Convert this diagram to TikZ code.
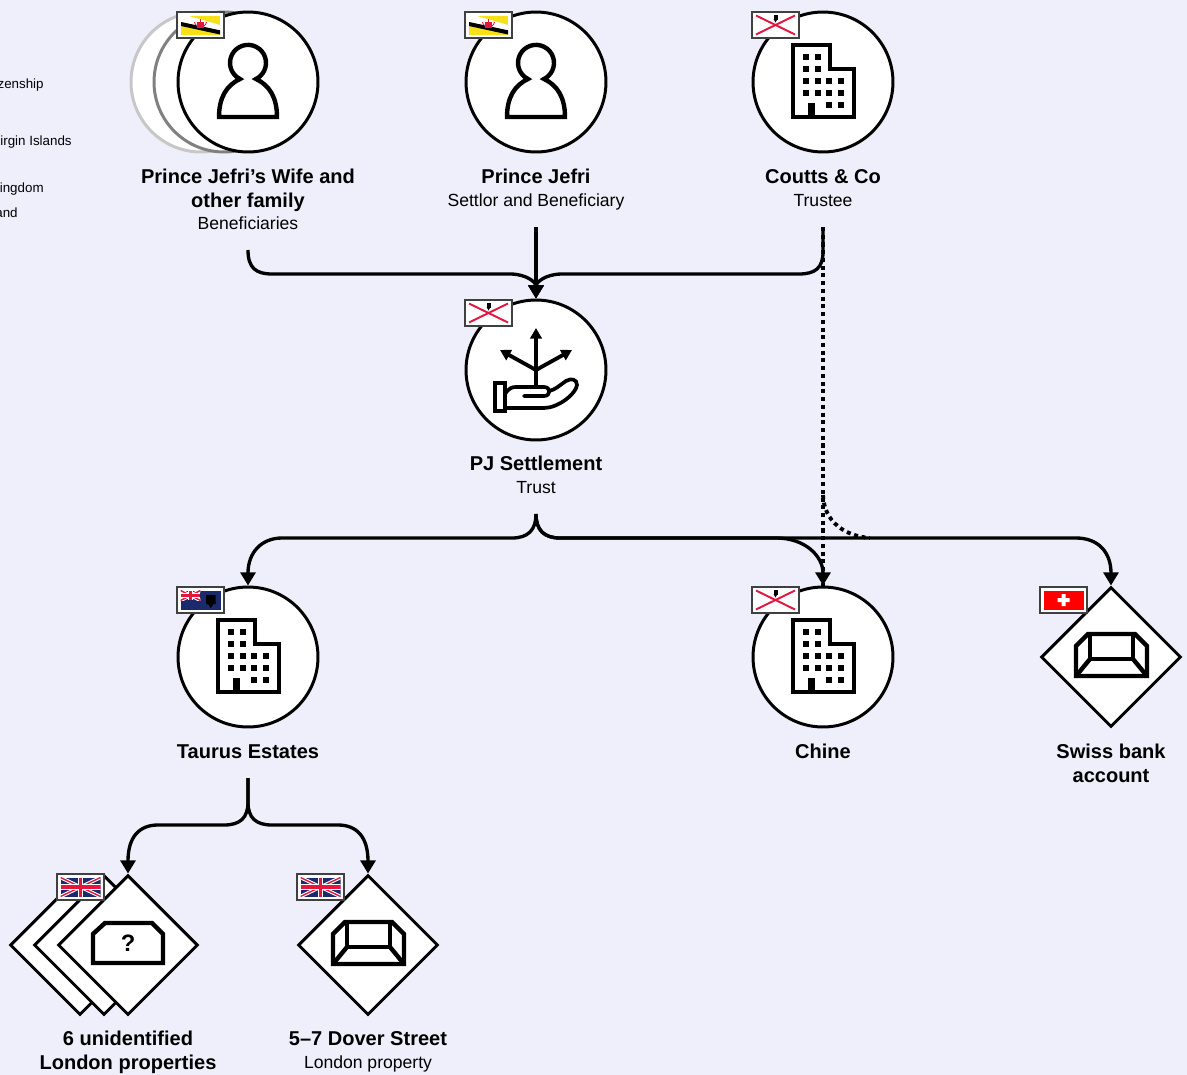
\documentclass[tikz,border=0pt]{standalone}
\usepackage{fontspec}
\setmainfont{Liberation Sans}
\usetikzlibrary{arrows.meta}
\usetikzlibrary{shapes.geometric}

\definecolor{pagebg}{HTML}{EFEFFC}
\definecolor{flagnavy}{HTML}{1A2A6C}
\definecolor{flagred}{HTML}{E3173E}
\definecolor{flagyellow}{HTML}{F7E017}

\tikzset{
  owner/.style={circle, draw=black, fill=white, line width=1.7pt, minimum size=2.80cm, inner sep=0pt},
  asset/.style={diamond, draw=black, fill=white, line width=1.7pt, minimum width=2.80cm, minimum height=2.80cm, aspect=1, inner sep=0pt},
  partylabel/.style={align=center, anchor=north, inner sep=0pt, font=\fontsize{11.4}{13.3}\selectfont\bfseries},
  legendtext/.style={anchor=east, inner sep=0pt, font=\fontsize{7.6}{9}\selectfont},
  link/.style={line width=1.9pt},
  linkarrow/.style={link, ->, >={Triangle[width=8.5pt,length=7.5pt]}},
  dotlink/.style={line width=2.2pt, dash pattern=on 2.3pt off 2.1pt},
  icon/.style={line width=2.5pt, line join=miter},
  flagedge/.style={draw=black!75, fill=white, line width=.9pt},
  pics/person/.style={code={
    \draw[icon] (-8,-3) arc[start angle=116.4, end angle=423.6, radius=18] .. controls (21,3) and (29,15) .. (29,35) -- (-29,35) .. controls (-29,15) and (-21,3) .. cycle;
  }},
  pics/building/.style={code={
    \draw[icon] (-30,-37) -- (7,-37) -- (7,-13) -- (31,-13) -- (31,35) -- (-30,35) -- cycle;
    \fill (-15,21) rectangle (-8,37);
    \foreach \wx in {-17,-5} \foreach \wy in {-25,-13}
      \fill (\wx-3.25,\wy-3.25) rectangle +(6.5,6.5);
    \foreach \wx in {-17,-5,6,18} \foreach \wy in {-1,11}
      \fill (\wx-3.25,\wy-3.25) rectangle +(6.5,6.5);
    \foreach \wx in {6,18}
      \fill (\wx-3.25,19.75) rectangle +(6.5,6.5);
  }},
  pics/vault/.style={code={
    \draw[icon] (-35,-11) -- (-23,-23) -- (24,-23) -- (36,-11) -- (36,19) -- (-35,19) -- cycle;
    \draw[icon] (-21,-23) rectangle (22,2);
    \draw[icon] (-21,2) -- (-35,19);
    \draw[icon] (22,2) -- (36,19);
  }},
  pics/unknown/.style={code={
    \draw[icon] (-35,-11) -- (-23,-22) -- (24,-22) -- (35,-11) -- (35,18) -- (-35,18) -- cycle;
    \node[inner sep=0pt, font=\fontsize{13.5}{15}\selectfont\bfseries] at (0,-2) {?};
  }},
  pics/gift/.style={code={
    \draw[line width=2.2pt, -{Triangle[width=6.5pt,length=6pt]}] (0,18) -- (0,-42);
    \draw[line width=2.2pt, -{Triangle[width=6.5pt,length=6pt]}] (0,0) -- (-36,-20);
    \draw[line width=2.2pt, -{Triangle[width=6.5pt,length=6pt]}] (0,0) -- (36,-20);
    \draw[icon, line width=2.1pt] (-41,13) rectangle (-31,41);
    \draw[icon, line width=2.1pt, line cap=round] (-31,24) .. controls (-27,18) and (-24,17) .. (-20,17) -- (8,17) .. controls (15,17) and (15,26) .. (8,26) -- (-12,26);
    \draw[icon, line width=2.1pt, line cap=round] (-31,38) -- (8,38) .. controls (22,38) and (40,24) .. (41,15) .. controls (41,9) and (35,8) .. (30,11) .. controls (24,15) and (19,20) .. (13,21);
  }},
  pics/bruneiflag/.style={code={
    \draw[flagedge] (0,0) rectangle (47,26);
    \fill[flagyellow] (4,4) rectangle (43,22.5);
    \fill[white] (4,4) -- (4,10) -- (43,18.3) -- (43,13) -- (12,4) -- cycle;
    \fill[black] (4,10) -- (4,14) -- (43,22.5) -- (43,18.3) -- cycle;
    \fill[flagred] (20,10) rectangle (27,16);
    \fill[flagred] (23,7) rectangle (24.4,11);
    \draw[flagred, line width=.5pt] (17.5,10) .. controls (19,17) and (28,17) .. (29.5,10);
  }},
  pics/jerseyflag/.style={code={
    \draw[flagedge] (0,0) rectangle (47,26);
    \draw[flagred, line width=1.1pt] (4,3.5) -- (43,22.5);
    \draw[flagred, line width=1.1pt] (43,3.5) -- (4,22.5);
    \fill[black] (21.5,3) rectangle (25.5,8);
    \fill[black] (23.5,10.5) -- (21.5,7) -- (25.5,7) -- cycle;
  }},
  pics/jack/.style={code={
    \begin{scope}
      \clip (0,0) rectangle (40,19);
      \fill[flagnavy] (0,0) rectangle (40,19);
      \draw[white, line width=2pt] (0,0) -- (40,19) (40,0) -- (0,19);
      \draw[flagred, line width=.8pt] (0,0) -- (40,19) (40,0) -- (0,19);
      \draw[white, line width=3.2pt] (20,0) -- (20,19) (0,9.5) -- (40,9.5);
      \draw[flagred, line width=1.9pt] (20,0) -- (20,19) (0,9.5) -- (40,9.5);
    \end{scope}
  }},
  pics/ukflag/.style={code={
    \draw[flagedge] (0,0) rectangle (47,26);
    \pic at (3.5,3.5) {jack};
  }},
  pics/bviflag/.style={code={
    \draw[flagedge] (0,0) rectangle (47,26);
    \fill[flagnavy] (3.5,3.5) rectangle (43.5,22.5);
    \begin{scope}[shift={(3.5,3.5)}, x=.01cm, y=-.0105cm]
      \pic {jack};
    \end{scope}
    \fill[black] (29,8) rectangle (38.5,17) (31,17) -- (33.7,21) -- (36.5,17) -- cycle;
  }},
  pics/swissflag/.style={code={
    \draw[flagedge] (0,0) rectangle (47,26);
    \fill[red] (3.5,3.5) rectangle (43.5,22.5);
    \fill[white] (21.5,7) rectangle (25.5,19) (17.5,11) rectangle (29.5,15);
  }}
}

\begin{document}
\begin{tikzpicture}[x=.02cm, y=-.02cm]
\fill[pagebg] (0,0) rectangle (1187,1075);
\useasboundingbox (0,0) rectangle (1187,1075);

% cut off legend
\node[legendtext] (legcitizen) at (44,85) {zenship};
\node[legendtext] (legvirgin) at (72,142) {irgin Islands};
\node[legendtext] (legkingdom) at (44,189) {ingdom};
\node[legendtext] (legisland) at (18,213) {and};

% top row
\node[owner, draw=black!22] (wifeback) at (201,82) {};
\node[owner, draw=black!50] (wifemid) at (224,82) {};
\node[owner] (wife) at (248,82) {};
\node[owner] (jefri) at (536,82) {};
\node[owner] (coutts) at (823,82) {};
\pic at (248,82) {person};
\pic at (536,82) {person};
\pic at (823,82) {building};
\pic at (177,12) {bruneiflag};
\pic at (465,12) {bruneiflag};
\pic at (752,12) {jerseyflag};
\node[partylabel] (wifelabel) at (248,169) {Prince Jefri’s Wife and\\other family\\[-.4pt]\mdseries\fontsize{10}{12}\selectfont Beneficiaries};
\node[partylabel] (jefrilabel) at (536,169) {Prince Jefri\\[-.4pt]\mdseries\fontsize{10}{12}\selectfont Settlor and Beneficiary};
\node[partylabel] (couttslabel) at (823,169) {Coutts \& Co\\[-.4pt]\mdseries\fontsize{10}{12}\selectfont Trustee};

% trust
\node[owner] (settlement) at (536,370) {};
\pic at (536,370) {gift};
\pic at (465,300) {jerseyflag};
\node[partylabel] (settlementlabel) at (536,456) {PJ Settlement\\[-.4pt]\mdseries\fontsize{10}{12}\selectfont Trust};

% middle row
\node[owner] (taurus) at (248,657) {};
\node[owner] (chine) at (823,657) {};
\node[asset] (swiss) at (1111,657) {};
\pic at (248,657) {building};
\pic at (823,657) {building};
\pic at (1111,657) {vault};
\pic at (177,587) {bviflag};
\pic at (752,587) {jerseyflag};
\pic at (1040,587) {swissflag};
\node[partylabel] (tauruslabel) at (248,744) {Taurus Estates};
\node[partylabel] (chinelabel) at (823,744) {Chine};
\node[partylabel] (swisslabel) at (1111,744) {Swiss bank\\account};

% bottom row
\node[asset] (londonback) at (80,945) {};
\node[asset] (londonmid) at (104,945) {};
\node[asset] (london) at (128,945) {};
\node[asset] (dover) at (368,945) {};
\pic at (128,945) {unknown};
\pic at (368,945) {vault};
\pic at (57,874) {ukflag};
\pic at (297,874) {ukflag};
\node[partylabel] (londonlabel) at (128,1031) {6 unidentified\\London properties};
\node[partylabel] (doverlabel) at (368,1031) {5–7 Dover Street\\[-.4pt]\mdseries\fontsize{10}{12}\selectfont London property};

% free ends of the links
\coordinate (wifeout) at (248,250);
\coordinate (jefriout) at (536,227);
\coordinate (couttsout) at (823,227);
\coordinate (trustout) at (536,514);
\coordinate (taurusout) at (248,778);
\coordinate (dotend) at (870,538);
\coordinate (dotstart) at (823,495);

% links
\draw[dotlink] (couttsout) -- (chine.north);
\draw[dotlink] (dotstart) .. controls (824,522) and (845,536) .. (dotend);
\draw[linkarrow] (wifeout) .. controls (248,268) and (256,274) .. (272,274) -- (510,274) .. controls (526,274) and (536,282) .. (settlement.north);
\draw[linkarrow] (couttsout) -- (823,252) .. controls (823,268) and (815,274) .. (799,274) -- (562,274) .. controls (546,274) and (536,282) .. (settlement.north);
\draw[linkarrow] (jefriout) -- (settlement.north);
\draw[linkarrow] (trustout) .. controls (536,530) and (528,538) .. (512,538) -- (282,538) .. controls (262,538) and (248,552) .. (taurus.north);
\draw[linkarrow] (trustout) .. controls (536,530) and (544,538) .. (560,538) -- (776,538) .. controls (805,538) and (823,556) .. (chine.north);
\draw[linkarrow] (trustout) .. controls (536,530) and (544,538) .. (560,538) -- (1076,538) .. controls (1098,538) and (1111,552) .. (swiss.north);
\draw[linkarrow] (taurusout) -- (248,802) .. controls (248,818) and (240,825) .. (224,825) -- (158,825) .. controls (140,825) and (128,836) .. (london.north);
\draw[linkarrow] (taurusout) -- (248,802) .. controls (248,818) and (256,825) .. (272,825) -- (338,825) .. controls (356,825) and (368,836) .. (dover.north);
\end{tikzpicture}
\end{document}
